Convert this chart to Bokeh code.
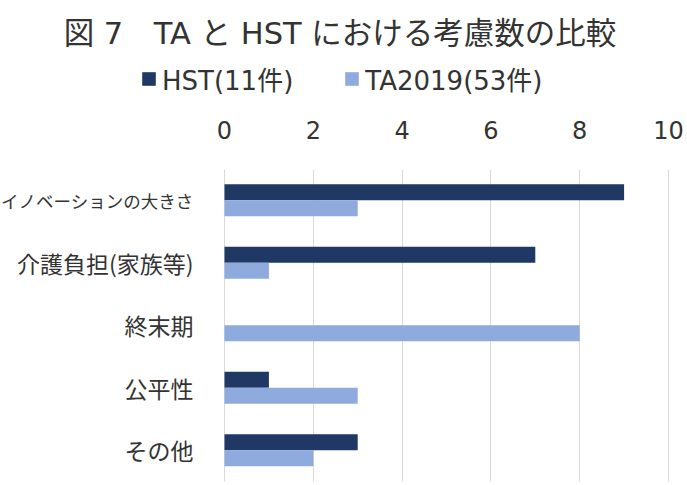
from bokeh.plotting import figure
from bokeh.models import Range1d, Legend, LegendItem, Label, ColumnDataSource, LinearAxis
from bokeh.transform import dodge
from bokeh.embed import file_html
from bokeh.resources import INLINE

categories = ["イノベーションの大きさ", "介護負担(家族等)", "終末期", "公平性", "その他"]
hst = [9, 7, 0, 1, 3]
ta2019 = [3, 1, 8, 3, 2]
series_names = ["HST(11件)", "TA2019(53件)"]
x_ticks = [0, 2, 4, 6, 8, 10]
title_text = "図 7\u3000TA と HST における考慮数の比較"

HST_COLOR = "#203864"
TA_COLOR = "#8FAADC"
CJK = "Noto Sans CJK JP"
MIX = "DejaVu Sans, Noto Sans CJK JP"
TEXT_COLOR = "#333333"

n = len(categories)
pos = [n - 1 - i for i in range(n)]          # first category at the top
src = ColumnDataSource(dict(cat=categories, pos=pos, hst=hst, ta=ta2019))

W, H = 687, 485
p = figure(width=W, height=H, output_backend="svg", toolbar_location=None,
           x_range=Range1d(-5.045, 10.428), y_range=Range1d(-0.564, 7.196),
           x_axis_location="above", min_border=0, min_border_left=0, min_border_right=0,
           min_border_top=0, min_border_bottom=0)
p.outline_line_color = None
p.background_fill_color = "white"
p.border_fill_color = "white"

bh = 0.256
r1 = p.hbar(y=dodge("pos", bh / 2), right="hst", left=0, height=bh,
            source=src, fill_color=HST_COLOR, line_color=None)
r2 = p.hbar(y=dodge("pos", -bh / 2), right="ta", left=0, height=bh,
            source=src, fill_color=TA_COLOR, line_color=None)

xa = p.xaxis[0]
xa.fixed_location = n - 0.5
xa.ticker = x_ticks
xa.axis_line_color = None
xa.major_tick_line_color = None
xa.minor_tick_line_color = None
xa.major_label_text_font = "DejaVu Sans"
xa.major_label_text_font_size = "24px"
xa.major_label_text_color = TEXT_COLOR
xa.major_label_standoff = 24


def style_cat_axis(ax, ticks, size):
    ax.fixed_location = 0
    ax.ticker = ticks
    ax.major_label_overrides = {pp: c for pp, c in zip(pos, categories) if pp in ticks}
    ax.axis_line_color = None
    ax.major_tick_line_color = None
    ax.minor_tick_line_color = None
    ax.major_label_text_font = CJK
    ax.major_label_text_font_size = size
    ax.major_label_text_color = TEXT_COLOR
    ax.major_label_standoff = 25


# the long first label needs a smaller size to fit inside the picture
style_cat_axis(p.yaxis[0], pos[:1], "17.5px")
ya2 = LinearAxis()
style_cat_axis(ya2, pos[1:], "23px")
p.add_layout(ya2, "left")

p.xgrid.grid_line_color = "#d9d9d9"
p.xgrid.ticker = x_ticks
p.xgrid.cross_bounds = (-0.5, n - 0.5)
p.ygrid.grid_line_color = None

legend = Legend(items=[LegendItem(label=series_names[0], renderers=[r1]),
                       LegendItem(label=series_names[1], renderers=[r2])],
                orientation="horizontal", location=(140, 388),
                glyph_width=17, glyph_height=17, label_standoff=5, spacing=50,
                padding=0, margin=0, border_line_color=None, background_fill_alpha=0,
                label_text_font=MIX, label_text_font_size="26px", label_text_color=TEXT_COLOR,
                label_height=26)
p.add_layout(legend, "center")

title = Label(x=339.5, y=H - 33, x_units="screen", y_units="screen", text=title_text,
              text_align="center", text_baseline="middle", text_font=MIX,
              text_font_size="30.5px", text_color=TEXT_COLOR)
p.add_layout(title)

open("out.html", "w").write(file_html(p, INLINE))
